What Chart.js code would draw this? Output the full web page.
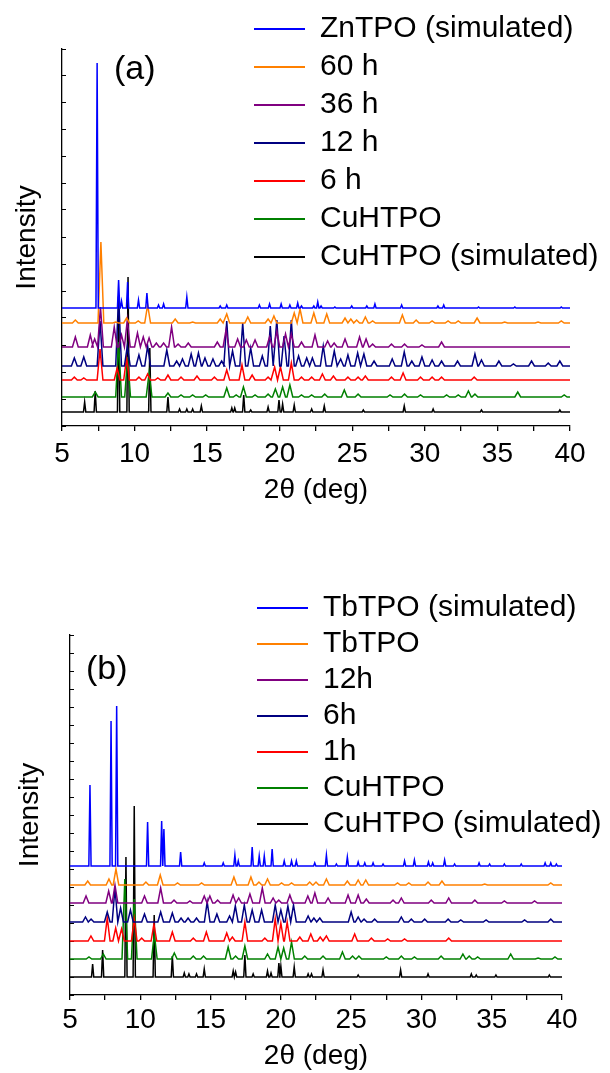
<!DOCTYPE html>
<html>
<head>
<meta charset="utf-8">
<script src="https://cdn.jsdelivr.net/npm/chart.js@4.4.1/dist/chart.umd.min.js"></script>
<style>
  html, body { margin: 0; padding: 0; background: #fff; }
  #page { position: relative; width: 610px; height: 1073px; overflow: hidden; }
  .panel { position: absolute; left: 0; width: 610px; }
  #boxA { top: 0; height: 536px; }
  #boxB { top: 536px; height: 537px; }
  .tag { position: absolute; font: 34px "Liberation Sans", Arial, sans-serif; color: #000; line-height: 38px; }
</style>
</head>
<body>
<div id="page">
  <div class="panel" id="boxA"><canvas id="chartA"></canvas></div>
  <div class="panel" id="boxB"><canvas id="chartB"></canvas></div>
  <div class="tag" style="left:114px; top:48px">(a)</div>
  <div class="tag" style="left:86px; top:648px">(b)</div>
</div>
<script>
// axis range and tick labels
const twoThetaMin = 5;
const twoThetaMax = 40;
const tickLabels = [5, 10, 15, 20, 25, 30, 35, 40];

// series names, top to bottom as in the legend
const namesA = ['ZnTPO (simulated)', '60 h', '36 h', '12 h', '6 h', 'CuHTPO', 'CuHTPO (simulated)'];
const namesB = ['TbTPO (simulated)', 'TbTPO', '12h', '6h', '1h', 'CuHTPO', 'CuHTPO (simulated)'];

// baseline (stacking offset) of every trace, arbitrary intensity units
const offsetsA = [118, 103, 79, 60, 46, 29, 14];
const offsetsB = [129, 110, 92, 73, 54, 36, 18];

// peaks: [2theta, height above the trace baseline]
const peaksZnSim = [[7.42,245],[8.9,28],[9.1,7],[9.52,26],[10.27,8],[10.85,15],[11.65,3],[12.0,4],[13.6,11],[15.9,2],[16.35,3],[18.6,3],[19.3,4],[20.1,4],[20.7,3],[21.24,5],[21.5,2],[22.35,2],[22.62,6],[22.85,2],[23.8,1],[24.96,2],[26.0,2],[26.56,4],[28.4,3],[30.9,2],[31.3,3],[33.7,1],[36.2,1],[39.4,1]];
const peaks60h = [[5.92,3],[7.68,81],[8.7,1],[9.45,5],[10.25,2],[10.9,18],[12.8,4],[14.0,1],[15.9,4],[16.35,9],[17.8,6],[19.2,4],[19.6,7],[21.0,10],[21.4,14],[22.35,10],[23.24,9],[24.5,5],[24.9,4],[25.3,3],[25.9,6],[26.4,2],[28.45,8],[29.4,3],[30.5,2],[31.6,2],[32.3,2],[33.6,5],[35.5,1],[37.8,1],[39.4,2]];
const peaks36h = [[5.92,10],[6.95,12],[7.25,8],[7.65,40],[8.6,20],[9.1,12],[9.5,27],[10.2,14],[10.6,10],[11.0,9],[11.5,4],[12.0,4],[12.55,20],[13.0,3],[13.7,4],[15.7,5],[16.3,17],[17.1,8],[17.7,7],[18.3,7],[19.3,10],[19.8,16],[20.4,13],[20.8,13],[21.5,5],[22.43,12],[23.3,6],[23.75,4],[24.5,8],[25.5,10],[25.95,8],[26.4,3],[27.7,3],[28.6,3],[29.8,2],[31.15,5]];
const peaks12h = [[5.85,8],[6.5,9],[7.62,45],[8.9,70],[9.5,20],[10.3,11],[10.9,20],[12.22,16],[12.9,5],[13.3,7],[13.9,12],[14.4,13],[14.85,8],[15.4,7],[16.0,5],[16.35,45],[16.75,15],[17.45,43],[18.0,18],[18.8,10],[19.35,40],[19.8,46],[20.3,30],[20.8,46],[21.3,10],[21.86,8],[22.25,8],[23.0,20],[23.76,15],[24.2,7],[24.7,11],[25.37,13],[25.8,12],[26.5,5],[27.75,7],[28.58,14],[29.1,5],[29.8,9],[30.5,6],[31.15,5],[32.25,5],[33.45,12],[33.9,6],[35.1,5],[36.1,2],[37.35,5],[38.5,3],[39.3,5]];
const peaks6h = [[5.85,3],[6.5,2],[7.62,31],[8.8,12],[9.45,22],[10.3,3],[10.9,6],[11.6,2],[12.3,5],[13.2,3],[14.3,4],[15.5,3],[16.35,10],[17.4,15],[18.1,5],[19.2,3],[19.65,13],[20.05,13],[20.8,17],[21.5,3],[22.2,3],[22.94,6],[23.7,4],[24.7,3],[25.4,3],[25.9,4],[27.7,3],[28.5,7],[29.7,3],[30.5,3],[31.15,3],[33.4,3]];
const peaksCuA = [[7.29,5],[8.9,55],[9.52,40],[11.0,24],[12.3,4],[13.2,2],[14.0,2],[14.9,2],[16.35,9],[17.0,2],[17.5,10],[18.3,2],[19.2,3],[19.7,8],[20.2,10],[20.7,12],[21.5,2],[22.2,2],[23.1,3],[24.45,7],[25.4,3],[27.6,2],[28.6,3],[29.7,2],[31.5,2],[32.3,2],[33.0,6],[33.45,3],[36.4,5],[39.6,2]];
const peaksCuSimA = [[6.56,10],[7.29,21],[8.9,115],[9.55,135],[11.05,64],[12.3,15],[13.1,3],[13.6,3],[14.0,3],[14.6,6],[16.7,4],[16.9,4],[17.52,17],[18.0,2],[19.2,5],[19.95,12],[20.2,8],[21.0,7],[22.2,3],[23.07,6],[25.76,2],[28.58,6],[30.57,3],[33.9,2],[39.3,2]];

const peaksTbSim = [[6.42,81],[7.92,145],[8.32,160],[10.52,44],[11.52,45],[11.68,37],[12.87,14],[14.55,3],[15.9,3],[16.73,11],[16.97,5],[17.96,19],[18.46,10],[18.82,10],[19.38,17],[20.24,5],[20.76,5],[21.1,5],[22.41,3],[23.24,11],[23.95,2],[24.73,9],[25.5,4],[25.97,3],[26.56,3],[27.27,2],[28.8,5],[29.5,6],[30.5,4],[30.8,3],[31.65,6],[32.36,2],[34.1,3],[34.85,2],[35.9,2],[37.1,2],[38.8,3],[39.2,3],[39.6,2]];
const peaksTb = [[6.26,4],[7.77,6],[8.27,16],[10.4,3],[11.42,10],[12.65,2],[14.36,2],[16.66,8],[17.87,8],[18.44,3],[19.05,6],[20.05,2],[20.76,2],[22.05,3],[22.5,3],[23.24,6],[24.73,4],[25.5,5],[26.04,5],[28.3,2],[29.1,2],[30.47,3],[31.46,4],[34.5,1],[39.2,2]];
const peaks12hB = [[6.14,7],[7.75,12],[8.2,18],[10.3,7],[11.45,15],[12.4,3],[13.53,2],[14.55,7],[14.95,7],[15.5,3],[16.6,8],[17.0,5],[17.8,9],[18.68,15],[19.45,5],[19.85,3],[20.64,8],[21.92,7],[22.42,10],[23.36,5],[24.78,8],[25.5,8],[26.08,4],[27.98,3],[28.57,5],[30.7,3],[31.94,5],[33.8,3],[35.9,2],[38.05,2]];
const peaks6hB = [[6.1,5],[6.5,3],[7.65,10],[8.2,34],[8.6,14],[9.3,12],[10.3,8],[11.45,10],[12.28,9],[12.9,4],[13.4,4],[14.0,4],[14.76,20],[15.45,8],[16.35,6],[16.76,16],[17.4,17],[17.96,12],[18.63,12],[19.6,17],[20.0,12],[20.5,16],[20.9,17],[21.94,6],[22.35,4],[22.77,4],[25.0,10],[25.5,5],[25.92,3],[26.67,3],[28.57,5],[29.28,3],[30.23,3],[31.9,3],[32.8,2],[34.6,2],[37.34,2],[39.2,3]];
const peaks1hB = [[6.49,5],[7.65,23],[8.25,13],[8.67,12],[9.57,22],[10.1,3],[10.97,17],[12.28,9],[13.77,3],[14.7,9],[16.15,8],[16.55,4],[17.44,19],[18.86,3],[19.6,22],[20.0,18],[20.45,19],[21.35,4],[22.13,7],[22.8,4],[23.24,5],[25.25,7],[26.44,3],[27.6,2],[28.8,2],[31.94,3]];
const peaksCuB = [[6.35,2],[7.37,5],[8.9,80],[9.57,60],[11.0,25],[12.42,6],[13.77,3],[14.5,3],[16.25,12],[16.78,3],[17.44,13],[19.05,5],[19.8,12],[20.2,11],[20.76,17],[21.7,3],[23.0,3],[24.38,7],[25.1,3],[25.55,3],[27.5,2],[28.57,3],[29.5,2],[31.4,3],[32.95,5],[33.4,3],[34.0,2],[36.35,5],[38.3,1],[39.5,2]];
const peaksCuSimB = [[6.61,13],[7.32,27],[8.98,120],[9.57,171],[10.99,62],[12.28,21],[13.13,4],[13.46,3],[14.0,3],[14.55,8],[16.61,6],[16.78,5],[17.44,22],[18.03,3],[19.05,6],[19.3,4],[19.86,14],[20.0,11],[20.95,10],[21.94,3],[22.18,3],[23.0,7],[25.5,2],[28.52,7],[30.47,3],[33.55,3],[33.9,2],[35.3,2],[39.1,2]];

const peaksA = [peaksZnSim, peaks60h, peaks36h, peaks12h, peaks6h, peaksCuA, peaksCuSimA];
const peaksB = [peaksTbSim, peaksTb, peaks12hB, peaks6hB, peaks1hB, peaksCuB, peaksCuSimB];

const colors = ['#0000ff', '#ff8000', '#800080', '#000080', '#ff0000', '#008000', '#000000'];
const simulatedTrace = [true, false, false, false, false, false, true];
const FONT = '"Liberation Sans", Arial, Helvetica, sans-serif';

// each peak becomes a narrow spike on the trace baseline
function buildTrace(offset, peaks, halfWidth) {
  const pts = [{x: twoThetaMin, y: offset}];
  peaks.forEach(function(p) {
    pts.push({x: p[0] - halfWidth, y: offset});
    pts.push({x: p[0], y: offset + p[1]});
    pts.push({x: p[0] + halfWidth, y: offset});
  });
  pts.push({x: twoThetaMax, y: offset});
  return pts;
}

// moves the 'chartArea' legend to the upper right
const legendSpot = {
  id: 'legendSpot',
  afterLayout(chart, args, opts) {
    const lg = chart.legend;
    if (!lg) return;
    lg.left = opts.left;
    lg.top = opts.top;
    lg.width = 360;
    lg.height = 400;
    lg.right = opts.left + 360;
    lg.bottom = opts.top + 400;
  }
};

function makePanel(canvasId, names, offsets, peakSets, p) {
  const ctx = document.getElementById(canvasId).getContext('2d');
  const datasets = names.map(function(name, i) {
    return {
      label: name,
      data: buildTrace(offsets[i], peakSets[i], simulatedTrace[i] ? 0.08 : 0.2),
      borderColor: colors[i],
      backgroundColor: colors[i],
      borderWidth: 1.5,
      pointRadius: 0,
      tension: 0,
      fill: false
    };
  });

  return new Chart(ctx, {
    type: 'line',
    data: { datasets: datasets },
    plugins: [legendSpot],
    options: {
      responsive: true,
      maintainAspectRatio: false,
      animation: false,
      parsing: false,
      layout: { padding: { top: p.padTop, right: p.padRight, left: 0, bottom: 0 } },
      scales: {
        x: {
          type: 'linear',
          min: twoThetaMin,
          max: twoThetaMax,
          afterFit: function(scale) { scale.height = p.xHeight; },
          border: { display: true, color: '#000', width: 1.3 },
          grid: { drawOnChartArea: false, drawTicks: true, tickLength: 5, color: '#000', lineWidth: 1.3 },
          ticks: {
            stepSize: 2.5,
            autoSkip: false,
            maxRotation: 0,
            padding: p.tickPad,
            color: '#000',
            font: { family: FONT, size: 28 },
            callback: function(v) { return tickLabels.includes(v) ? String(v) : ''; }
          },
          title: {
            display: true,
            text: '2θ (deg)',
            color: '#000',
            font: { family: FONT, size: 28 },
            padding: { top: 0, bottom: p.xTitlePad }
          }
        },
        y: {
          type: 'linear',
          min: 0,
          max: p.yMax,
          afterFit: function(scale) { scale.width = p.yWidth; },
          border: { display: true, color: '#000', width: 1.3 },
          grid: { drawOnChartArea: false, drawTicks: true, tickLength: -4, color: '#000', lineWidth: 1 },
          ticks: { display: false, stepSize: p.yStep },
          title: {
            display: true,
            text: 'Intensity',
            color: '#000',
            font: { family: FONT, size: 28 },
            padding: { top: p.yTitlePad, bottom: 0 }
          }
        }
      },
      plugins: {
        tooltip: { enabled: false },
        legendSpot: { left: p.legendLeft, top: p.legendTop },
        legend: {
          display: true,
          position: 'chartArea',
          align: 'start',
          labels: {
            usePointStyle: true,
            pointStyle: 'line',
            pointStyleWidth: 51,
            padding: p.legendPad,
            color: '#000',
            font: { family: FONT, size: 30 },
            generateLabels: function(chart) {
              return Chart.defaults.plugins.legend.labels.generateLabels(chart).map(function(l) {
                l.lineWidth = 2;
                return l;
              });
            }
          }
        }
      }
    }
  });
}

makePanel('chartA', namesA, offsetsA, peaksA, {
  padTop: 49, padRight: 40, xHeight: 110, yWidth: 62, yMax: 377, yStep: 27,
  tickPad: 6, xTitlePad: 29, yTitlePad: 10,
  legendLeft: 246, legendTop: 6, legendPad: 8
});

makePanel('chartB', namesB, offsetsB, peaksB, {
  padTop: 99, padRight: 48, xHeight: 78, yWidth: 70, yMax: 360, yStep: 18,
  tickPad: 3, xTitlePad: 0, yTitlePad: 13,
  legendLeft: 251, legendTop: 51, legendPad: 6
});
</script>
</body>
</html>
